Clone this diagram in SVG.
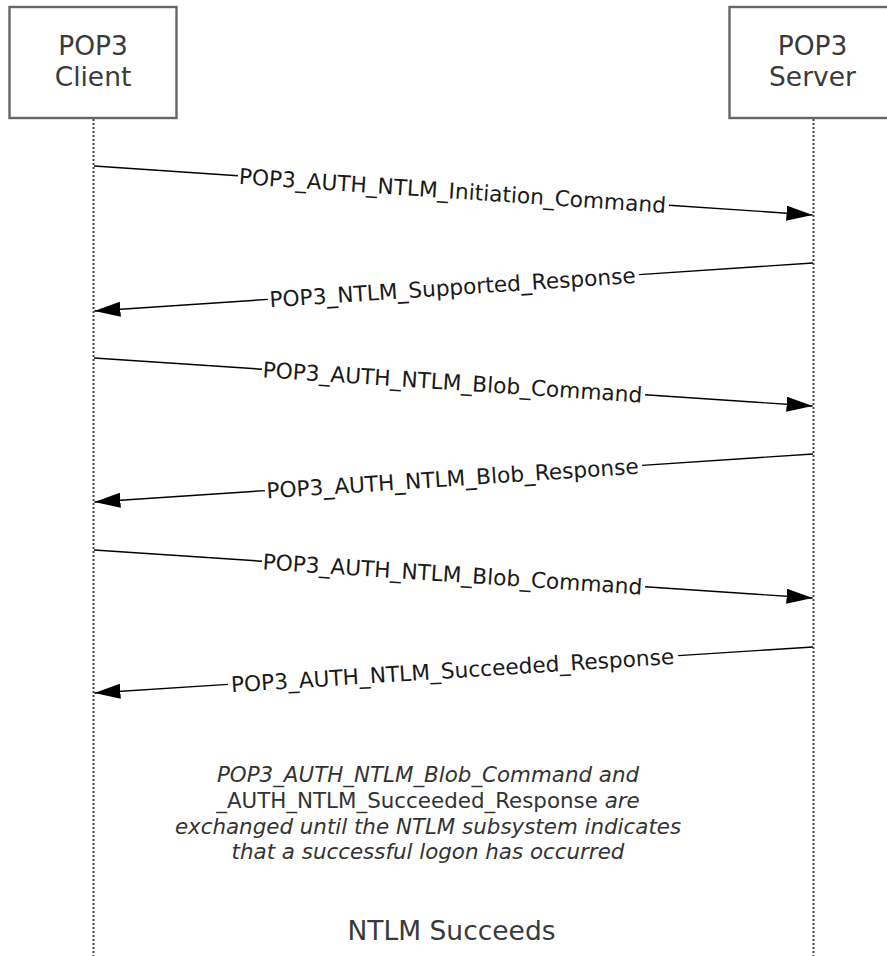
<svg xmlns="http://www.w3.org/2000/svg" width="887" height="956" viewBox="0 0 887 956">
<style>
.box{fill:#fff;stroke:#666;stroke-width:2.4}
.life{stroke:#444;stroke-width:2;stroke-dasharray:2 2;fill:none}
.msg{stroke:#000;stroke-width:1.4;fill:none}
.lbl{font-family:"DejaVu Sans",Verdana,sans-serif;font-size:21.7px;fill:#1a1a1a;text-anchor:middle}
.nt{font-family:"DejaVu Sans",Verdana,sans-serif;font-size:26.5px;fill:#3a3a3a;text-anchor:middle}
.note{font-family:"DejaVu Sans",Verdana,sans-serif;font-size:21.4px;fill:#333;text-anchor:middle;font-style:italic}
.up{font-style:normal}
</style>
<defs>
<marker id="ah" markerUnits="userSpaceOnUse" markerWidth="27" markerHeight="16" refX="26" refY="7.5" orient="auto" viewBox="0 0 27 16">
<path d="M0,0 L26,7.5 L0,15 z" fill="#000"/>
</marker>
</defs>
<rect width="887" height="956" fill="#fff"/>
<g id="client">
<line class="life" x1="93.5" y1="119" x2="93.5" y2="956"/>
<rect class="box" x="9.5" y="7" width="167" height="111"/>
<text class="nt" x="93" y="55">POP3</text>
<text class="nt" x="93" y="86">Client</text>
</g>
<g id="server">
<line class="life" x1="813.5" y1="119" x2="813.5" y2="956"/>
<rect class="box" x="729.5" y="7" width="170" height="111"/>
<text class="nt" x="812.5" y="55">POP3</text>
<text class="nt" x="812.5" y="86">Server</text>
</g>
<g id="connectors">
<g id="m1" transform="translate(94,166) rotate(3.899)">
<line class="msg" x1="0" y1="0" x2="144.3" y2="0"/>
<line class="msg" x1="576.3" y1="0" x2="720.2" y2="0" marker-end="url(#ah)"/>
<text class="lbl" x="359.3" y="8">POP3_AUTH_NTLM_Initiation_Command</text>
</g>
<g id="m2" transform="translate(94,311) rotate(-3.819)">
<line class="msg" x1="720.6" y1="0" x2="546.3" y2="0"/>
<line class="msg" x1="174.3" y1="0" x2="0.4" y2="0" marker-end="url(#ah)"/>
<text class="lbl" x="359.3" y="8">POP3_NTLM_Supported_Response</text>
</g>
<g id="m3" transform="translate(94,358) rotate(3.819)">
<line class="msg" x1="0" y1="0" x2="168.3" y2="0"/>
<line class="msg" x1="552.3" y1="0" x2="720.2" y2="0" marker-end="url(#ah)"/>
<text class="lbl" x="359.3" y="8">POP3_AUTH_NTLM_Blob_Command</text>
</g>
<g id="m4" transform="translate(94,502) rotate(-3.819)">
<line class="msg" x1="720.6" y1="0" x2="549.3" y2="0"/>
<line class="msg" x1="171.3" y1="0" x2="0.4" y2="0" marker-end="url(#ah)"/>
<text class="lbl" x="359.3" y="8">POP3_AUTH_NTLM_Blob_Response</text>
</g>
<g id="m5" transform="translate(94,550) rotate(3.819)">
<line class="msg" x1="0" y1="0" x2="168.3" y2="0"/>
<line class="msg" x1="552.3" y1="0" x2="720.2" y2="0" marker-end="url(#ah)"/>
<text class="lbl" x="359.3" y="8">POP3_AUTH_NTLM_Blob_Command</text>
</g>
<g id="m6" transform="translate(94,693) rotate(-3.661)">
<line class="msg" x1="720.5" y1="0" x2="585.3" y2="0"/>
<line class="msg" x1="134.3" y1="0" x2="0.4" y2="0" marker-end="url(#ah)"/>
<text class="lbl" x="359.3" y="8">POP3_AUTH_NTLM_Succeeded_Response</text>
</g>
</g>
<g id="note">
<text class="note" x="428" y="782">POP3_AUTH_NTLM_Blob_Command and</text>
<text class="note" x="428" y="808"><tspan class="up">_AUTH_NTLM_Succeeded_Response</tspan> are</text>
<text class="note" x="428" y="834">exchanged until the NTLM subsystem indicates</text>
<text class="note" x="428" y="859">that a successful logon has occurred</text>
</g>
<g id="succeeds">
<text class="nt" x="451.5" y="940">NTLM Succeeds</text>
</g>
</svg>
